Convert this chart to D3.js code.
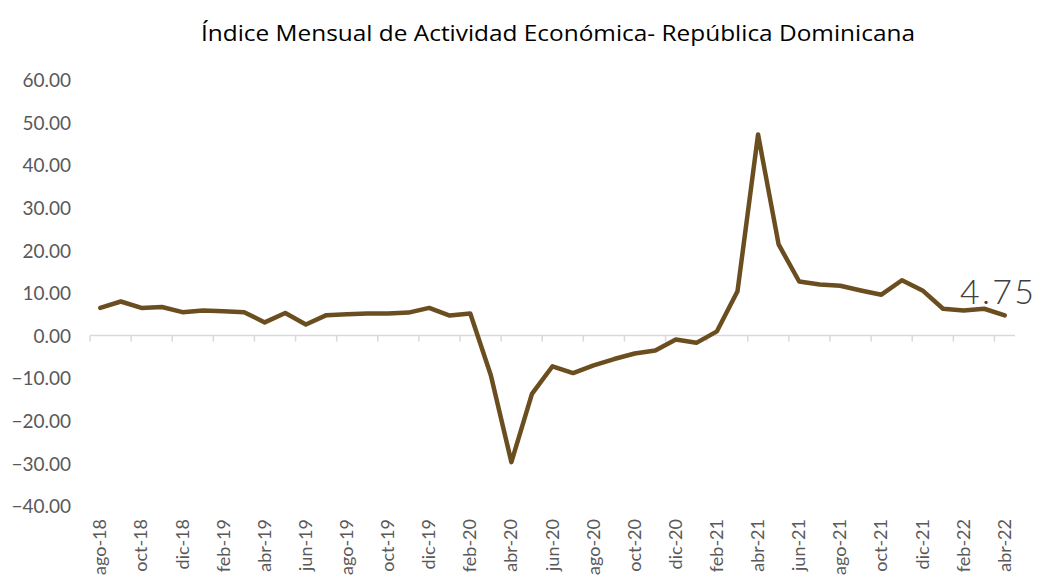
<!DOCTYPE html>
<html><head><meta charset="utf-8">
<script src="https://cdn.jsdelivr.net/npm/d3@7"></script>
<style>body{margin:0;background:#fff;}svg{display:block;}</style>
</head><body>
<svg id="c" width="1037" height="582"></svg>
<script>
const months = ["ago-18","sep-18","oct-18","nov-18","dic-18","ene-19","feb-19","mar-19","abr-19","may-19","jun-19","jul-19","ago-19","sep-19","oct-19","nov-19","dic-19","ene-20","feb-20","mar-20","abr-20","may-20","jun-20","jul-20","ago-20","sep-20","oct-20","nov-20","dic-20","ene-21","feb-21","mar-21","abr-21","may-21","jun-21","jul-21","ago-21","sep-21","oct-21","nov-21","dic-21","ene-22","feb-22","mar-22","abr-22"];
const values = [6.5,8.0,6.5,6.7,5.5,5.9,5.7,5.5,3.1,5.3,2.6,4.8,5.0,5.2,5.2,5.4,6.5,4.7,5.2,-9.3,-29.7,-13.7,-7.2,-8.8,-7.0,-5.5,-4.2,-3.5,-0.9,-1.7,1.0,10.4,47.2,21.4,12.7,12.0,11.7,10.6,9.6,13.0,10.6,6.3,5.9,6.3,4.75];
const yTicks = [-40,-30,-20,-10,0,10,20,30,40,50,60];
const title = "Índice Mensual de Actividad Económica- República Dominicana";
const lastLabel = "4.75";

const svg = d3.select("#c");
const x = d3.scaleBand().domain(months).range([90, 1015]).padding(0);
const y = d3.scaleLinear().domain([-40, 60]).range([506, 80]);

svg.append("text").attr("x", 558).attr("y", 41).attr("text-anchor", "middle")
  .attr("font-family", "Open Sans, sans-serif").attr("font-size", 22).attr("fill", "#000")
  .attr("textLength", 714).attr("lengthAdjust", "spacingAndGlyphs").text(title);

// y axis labels
const ya = svg.append("g").attr("transform", "translate(71,0)")
  .call(d3.axisLeft(y).tickValues(yTicks).tickSize(0).tickPadding(0).tickFormat(d3.format(".2f")));
ya.select(".domain").remove();
ya.selectAll("text").attr("font-family", "Lato, sans-serif").attr("font-size", 19).attr("fill", "#595959").attr("dy", "0.35em");

// x axis line at 0 with ticks every 2 categories
const xa = svg.append("g").attr("transform", `translate(0,${y(0)})`);
xa.append("line").attr("x1", x.range()[0]).attr("x2", x.range()[1]).attr("stroke", "#d9d9d9").attr("stroke-width", 1.5);
const tickIdx = d3.range(0, months.length + 1, 2);
xa.selectAll("line.tk").data(tickIdx).join("line").attr("class", "tk")
  .attr("x1", i => x.range()[0] + i * x.step()).attr("x2", i => x.range()[0] + i * x.step())
  .attr("y1", 0).attr("y2", 6).attr("stroke", "#d9d9d9").attr("stroke-width", 1.5);

// x labels at bottom, rotated
const labelMonths = months.filter((m, i) => i % 2 === 0);
svg.append("g").selectAll("text").data(labelMonths).join("text")
  .attr("transform", d => `translate(${x(d) + x.bandwidth() / 2 + 6},519) rotate(-90)`)
  .attr("text-anchor", "end").attr("font-family", "Lato, sans-serif").attr("font-size", 18)
  .attr("fill", "#595959").text(d => d);

// line
const line = d3.line().x((d, i) => x(months[i]) + x.bandwidth() / 2).y(d => y(d));
svg.append("path").datum(values).attr("d", line).attr("fill", "none")
  .attr("stroke", "#6b4e1f").attr("stroke-width", 4.5).attr("stroke-linejoin", "round").attr("stroke-linecap", "round");

// last value label
svg.append("text").attr("x", 960).attr("y", 304)
  .attr("font-family", "Lato, sans-serif").attr("font-weight", 300).attr("font-size", 34).attr("fill", "#404040")
  .attr("textLength", 74).attr("lengthAdjust", "spacing").text(lastLabel);
</script>
</body></html>
